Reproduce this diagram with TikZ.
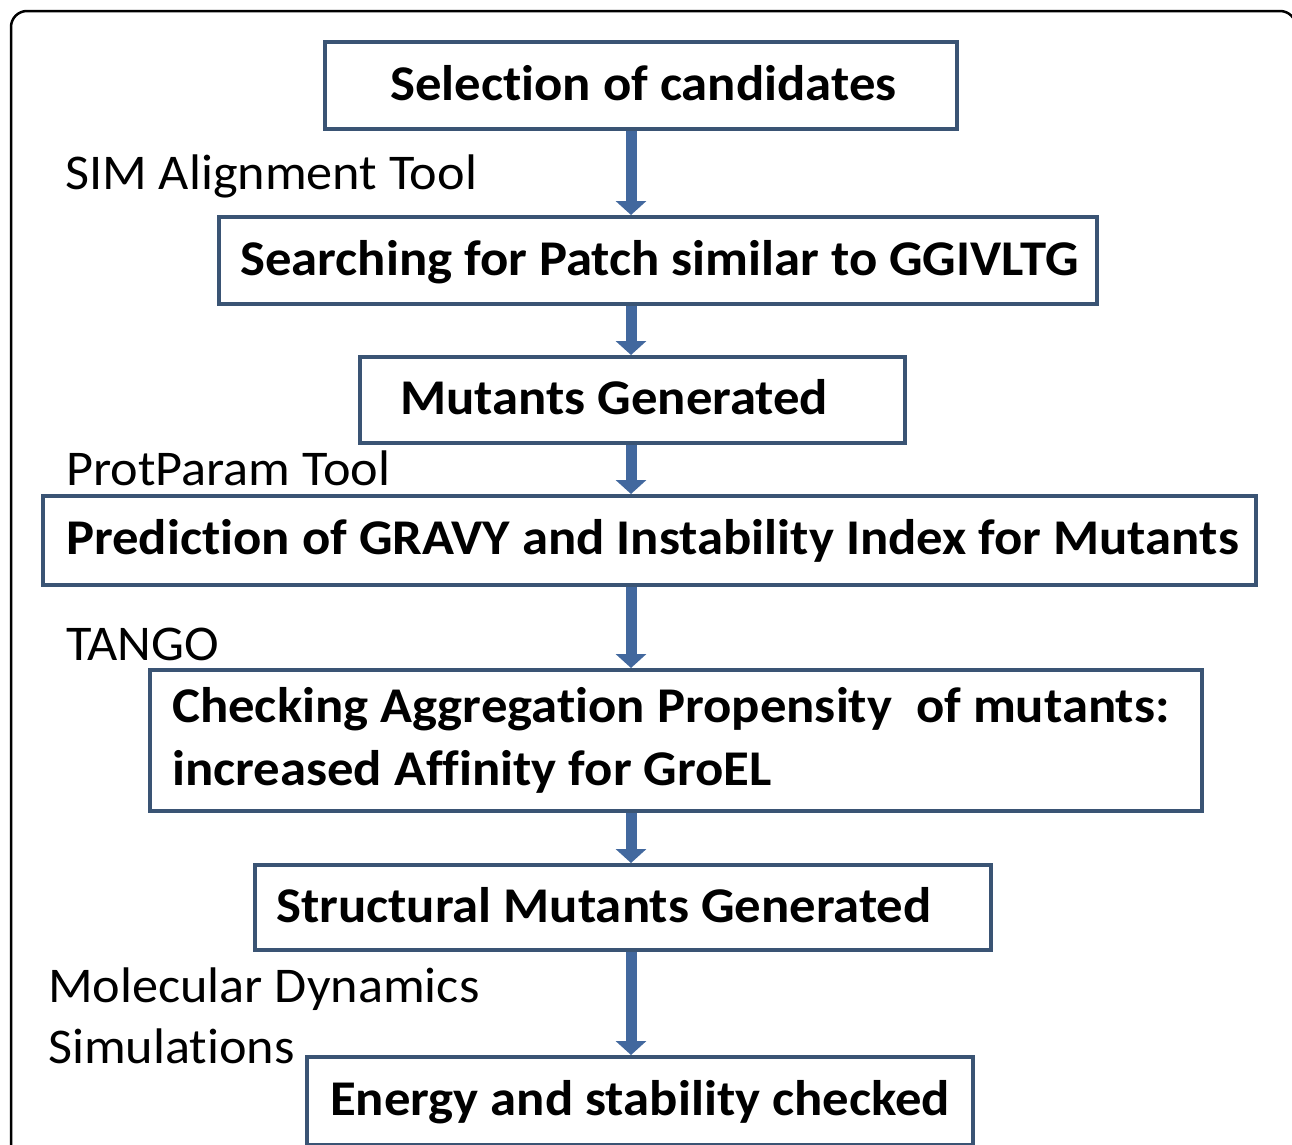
\documentclass[tikz,border=0pt]{standalone}
\usepackage{fontspec}
\setmainfont[Ligatures=NoCommon, UprightFeatures={FakeStretch=1.045}, BoldFeatures={FakeStretch=1.055}]{Carlito}
\usetikzlibrary{arrows.meta}
\definecolor{boxline}{RGB}{58,84,116}
\definecolor{arrowblue}{RGB}{66,104,158}
\tikzset{
  box/.style={draw=boxline, line width=4pt, fill=white, inner sep=0pt},
  btxt/.style={anchor=base west, inner sep=0pt, font=\fontsize{50}{60}\selectfont\bfseries},
  ltxt/.style={anchor=base west, inner sep=0pt, font=\fontsize{50}{60}\selectfont},
  arr/.style={draw=arrowblue, line width=11pt, -{Triangle[width=30pt,length=14pt]}},
}
\begin{document}
\begin{tikzpicture}[x=1pt,y=-1pt]
\useasboundingbox (0,0) rectangle (1292,1144);
\clip (0,0) rectangle (1292,1144);
\draw[line width=2.5pt, rounded corners=16pt] (11,11) rectangle (1296,1200);
\coordinate (ax) at (631,0);
% boxes
\node[box, minimum width=632, minimum height=87] (b1) at (641,85.5) {};
\node[box, minimum width=878, minimum height=87] (b2) at (658,260.5) {};
\node[box, minimum width=545, minimum height=86] (b3) at (632.5,400) {};
\node[box, minimum width=1213, minimum height=89] (b4) at (649.5,540.5) {};
\node[box, minimum width=1052, minimum height=141] (b5) at (676,740.5) {};
\node[box, minimum width=736, minimum height=85] (b6) at (623,907.5) {};
\node[box, minimum width=666, minimum height=88] (b7) at (640,1101) {};
% arrows
\draw[arr] (b1.south -| ax) -- (b2.north -| ax);
\draw[arr] (b2.south -| ax) -- (b3.north -| ax);
\draw[arr] (b3.south -| ax) -- (b4.north -| ax);
\draw[arr] (b4.south -| ax) -- (b5.north -| ax);
\draw[arr] (b5.south -| ax) -- (b6.north -| ax);
\draw[arr] (b6.south -| ax) -- (b7.north -| ax);
% box texts
\node[btxt] (t1) at (390,100) {Selection of candidates};
\node[btxt] (t2) at (240,275) {Searching for Patch similar to GGIVLTG};
\node[btxt] (t3) at (400,414) {Mutants Generated};
\node[btxt] (t4) at (66,554) {Prediction of GRAVY and Instability Index for Mutants};
\node[btxt] (t5a) at (172,722) {Checking Aggregation Propensity\ \ of mutants:};
\node[btxt] (t5b) at (172,785) {increased Affinity for GroEL};
\node[btxt] (t6) at (276,922) {Structural Mutants Generated};
\node[btxt] (t7) at (330,1115) {Energy and stability checked};
% side labels
\node[ltxt] (l1) at (65,189) {SIM Alignment Tool};
\node[ltxt] (l2) at (66,485) {ProtParam Tool};
\node[ltxt] (l3) at (66,660) {TANGO};
\node[ltxt] (l4a) at (48,1002) {Molecular Dynamics};
\node[ltxt] (l4b) at (48,1063) {Simulations};
\end{tikzpicture}
\end{document}
